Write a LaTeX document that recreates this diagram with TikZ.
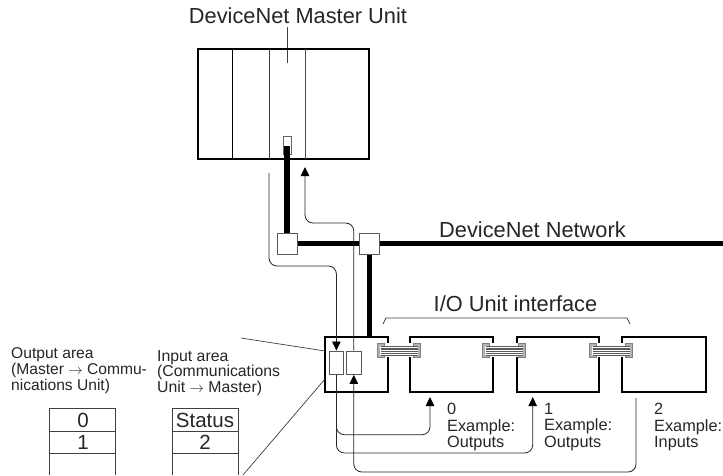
\documentclass[tikz,border=0pt]{standalone}
\usepackage{fontspec}
\setmainfont{Liberation Sans}
\usetikzlibrary{arrows.meta}
\newcommand{\ftbig}{\fontsize{21.8}{24}\selectfont}
\newcommand{\ftoutl}{\fontsize{15.6}{16}\selectfont}
\newcommand{\ftinl}{\fontsize{15.8}{15.5}\selectfont}
\newcommand{\ftcell}{\fontsize{20.5}{21}\selectfont}
\newcommand{\ftlab}{\fontsize{16.3}{16.5}\selectfont}
\tikzset{
  x=1pt,y=-1pt,
  unitbox/.style={draw=black,line width=1.6pt,fill=white},
  tapbox/.style={draw=black!65,line width=1pt,fill=white,inner sep=0pt},
  bus/.style={line width=5.5pt,black},
  wire/.style={line width=.8pt,black!85,rounded corners=8pt},
  tiphead/.tip={Triangle[length=9pt,width=8.5pt,color=black]},
  wirearrow/.style={wire,-tiphead},
  wirerev/.style={wire,tiphead-},
  thin leader/.style={line width=.7pt,black!75},
  txt/.style={inner sep=0pt,align=left,anchor=north west,text=black!85},
  cellt/.style={inner sep=0pt,anchor=center,text=black!85},
  cellline/.style={line width=.8pt,black!75}
}
\newcommand{\ribbon}[1]{%
  \begin{scope}[shift={(#1,0)}]
    \fill[white] (-1,343) rectangle (44,357);
    \draw[black!50,line width=.8pt,fill=black!30] (0,343.5) rectangle (7,357);
    \draw[black!50,line width=.8pt,fill=black!30] (36,343.5) rectangle (43,357);
    \fill[white] (2.5,345.5) rectangle (7.5,355);
    \fill[white] (35.5,345.5) rectangle (40.5,355);
    \foreach \yy in {346,347.9,349.8,351.7,353.6,355.2}{\draw[black!65,line width=.7pt] (3,\yy) -- (40,\yy);}
  \end{scope}}
\begin{document}
\begin{tikzpicture}
\useasboundingbox (0,0) rectangle (723,475);
\fill[white] (0,0) rectangle (723,475);

% master PLC
\node[txt,anchor=center,font=\ftbig] (mastertitle) at (298,15.5) {DeviceNet Master Unit};
\draw[thin leader] (287,27) -- (287,63);
\draw[black,line width=1.6pt] (198,49) rectangle (369,159);
\draw[black,line width=1pt] (232,49) -- (232,159);
\draw[black!75,line width=1pt] (269,49) -- (269,159);
\draw[black!70,line width=.9pt] (305,49) -- (305,159);
\draw[black!60,line width=.9pt,fill=white] (283.5,136) rectangle (291,154);

% network
\coordinate (busend) at (723,243.5);
\node[tapbox,minimum width=20pt,minimum height=21pt] (tapa) at (287,243.5) {};
\node[tapbox,minimum width=20pt,minimum height=21pt] (tapb) at (369.5,243.5) {};
\coordinate (plug) at (287,146);
\draw[bus] (plug) -- (tapa.north);
\draw[bus] (tapa.east) -- (tapb.west);
\draw[bus] (tapb.east) -- (busend);
\node[txt,anchor=center,font=\ftbig] (netlabel) at (532.5,230) {DeviceNet Network};

% units
\draw[unitbox] (325,337) rectangle (388,392);
\draw[bus] (tapb.south) -- (369.5,337);
\draw[unitbox] (410,337) rectangle (493,392);
\draw[unitbox] (517,337) rectangle (599,392);
\draw[unitbox] (622,337) rectangle (706,392);
\node[tapbox,line width=.8pt,minimum width=14.7pt,minimum height=23.5pt] (outbuf) at (336.4,362.7) {};
\node[tapbox,line width=.8pt,minimum width=14.7pt,minimum height=23.5pt] (inbuf) at (353.8,362.7) {};

% ribbons
\ribbon{377.5}
\ribbon{482.5}
\ribbon{589.5}

% I/O interface
\node[txt,anchor=center,font=\ftbig] (iflabel) at (515.5,304) {I/O Unit interface};
\draw[thin leader] (383,324) -- (386,318) -- (627,318) -- (630,324);

% wires
\coordinate (w1s) at (269,173);
\draw[wirearrow] (w1s) -- (269,266) -- (336.4,266) -- (outbuf.north);
\coordinate (w2s) at (305,167);
\draw[wirerev] (w2s) -- (305,223) -- (353.8,223) -- (inbuf.north);
\coordinate (d0) at (430,397);
\coordinate (d1) at (532.7,397);
\coordinate (d2) at (636,398);
\draw[wirearrow] (outbuf.south) -- (336.4,434.7) -- (430,434.7) -- (d0);
\draw[wirearrow] (outbuf.south) -- (336.4,453) -- (532.7,453) -- (d1);
\draw[wirerev] (inbuf.south) -- (353.8,472) -- (636,472) -- (d2);

% unit labels
\node[txt,font=\ftlab] (l0) at (447,403) {0\\Example:\\Outputs};
\node[txt,font=\ftlab] (l1) at (544,403) {1\\Example:\\Outputs};
\node[txt,font=\ftlab] (l2) at (654,403) {2\\Example:\\Inputs};

% area labels
\node[txt,font=\ftoutl] (outlab) at (11,347.5) {Output area\\(Master $\rightarrow$ Commu-\\nications Unit)};
\node[txt,font=\ftinl] (inlab) at (157,350) {Input area\\(Communications\\Unit $\rightarrow$ Master)};

% tables
\coordinate (t1a) at (49.5,475); \coordinate (t1b) at (115,475);
\coordinate (t2a) at (172,475); \coordinate (t2b) at (238,475);
\draw[cellline,line width=1pt] (t1a) -- (49.5,408) -- (115,408) -- (t1b);
\draw[cellline] (49.5,431) -- (115,431) (49.5,453) -- (115,453);
\draw[cellline,line width=1pt] (t2a) -- (172,408) -- (238,408) -- (t2b);
\draw[cellline] (172,431) -- (238,431) (172,453) -- (238,453);
\node[cellt,font=\ftcell] (c0) at (83,420) {0};
\node[cellt,font=\ftcell] (c1) at (83,442.5) {1};
\node[cellt,font=\ftcell] (cs) at (205,420) {Status};
\node[cellt,font=\ftcell] (c2) at (205,442.5) {2};

% leader lines
\coordinate (lead1) at (241,338);
\coordinate (lead1b) at (325,351);
\coordinate (lead2) at (243,475);
\coordinate (lead3) at (325,379);
\draw[thin leader] (lead1) -- (lead1b);
\draw[thin leader] (lead2) -- (lead3);
\end{tikzpicture}
\end{document}
